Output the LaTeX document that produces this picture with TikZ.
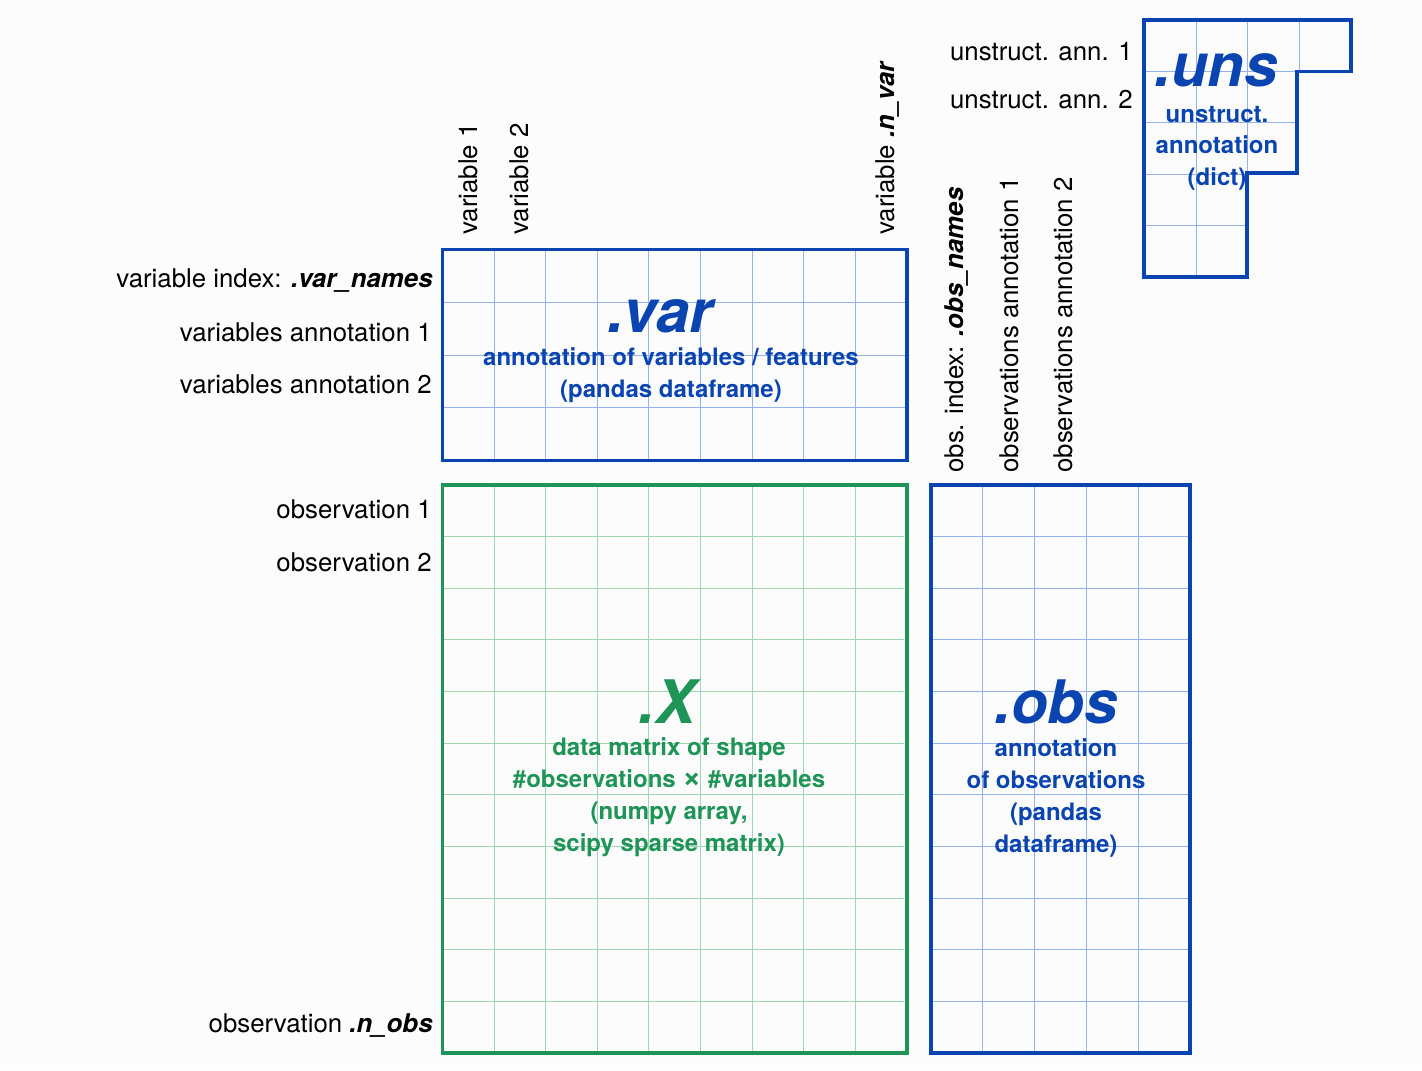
\documentclass[tikz,border=0pt]{standalone}
\usepackage{fontspec}
\setmainfont{TeX Gyre Heros}
\definecolor{adblue}{RGB}{10,68,176}
\definecolor{adbluegrid}{RGB}{150,178,230}
\definecolor{adgreen}{RGB}{30,148,86}
\definecolor{adgreengrid}{RGB}{160,214,180}
\definecolor{bg}{RGB}{252,252,252}
\tikzset{
  lbl/.style={inner sep=0pt, font=\fontsize{12.9}{15}\selectfont, text=black},
  rlbl/.style={lbl, anchor=base east},
  vlbl/.style={lbl, rotate=90, anchor=base west},
  bigttl/.style={inner sep=0pt, anchor=base, font=\fontsize{30}{36}\selectfont\bfseries\itshape},
  sub/.style={inner sep=0pt, anchor=base, font=\fontsize{12}{16}\selectfont\bfseries},
  bluebox/.style={draw=adblue, line width=1.75pt},
  greenbox/.style={draw=adgreen, line width=1.75pt},
  boxnode/.style={rectangle, inner sep=0pt, outer sep=0pt, anchor=north west},
  bluegrid/.style={draw=adbluegrid, line width=0.5pt},
  greengrid/.style={draw=adgreengrid, line width=0.5pt},
}
\begin{document}
\begin{tikzpicture}[x=0.5pt,y=-0.5pt]
\useasboundingbox (0,0) rectangle (1422,1070);
\fill[bg] (0,0) rectangle (1422,1070);

% ---------- .var grid ----------
\foreach \i in {1,...,8} \draw[bluegrid] ({442.5+\i*51.6},249.5) -- ({442.5+\i*51.6},460.5);
\foreach \j in {1,2,3} \draw[bluegrid] (442.5,{249.5+\j*52.75}) -- (907,{249.5+\j*52.75});
\node[bluebox, boxnode, minimum width=232.25pt, minimum height=105.5pt] (var) at (442.5,249.5) {};

% ---------- .X grid ----------
\foreach \i in {1,...,8} \draw[greengrid] ({442.5+\i*51.6},485) -- ({442.5+\i*51.6},1053);
\foreach \j in {1,...,10} \draw[greengrid] (442.5,{485+\j*51.64}) -- (904,{485+\j*51.64});
\node[greenbox, boxnode, minimum width=232.25pt, minimum height=284pt] (X) at (442.5,485) {};

% ---------- .obs grid ----------
\foreach \i in {1,...,4} \draw[bluegrid] ({931+\i*51.8},485) -- ({931+\i*51.8},1053);
\foreach \j in {1,...,10} \draw[bluegrid] (931,{485+\j*51.64}) -- (1190,{485+\j*51.64});
\node[bluebox, boxnode, minimum width=129.5pt, minimum height=284pt] (obs) at (931,485) {};

% ---------- .uns grid ----------
\draw[bluegrid] (1196,20) -- (1196,277);
\draw[bluegrid] (1247.5,20) -- (1247.5,174);
\draw[bluegrid] (1299,20) -- (1299,71.4);
\draw[bluegrid] (1144,71.4) -- (1297,71.4);
\draw[bluegrid] (1144,122.8) -- (1297,122.8);
\draw[bluegrid] (1144,174.2) -- (1247,174.2);
\draw[bluegrid] (1144,225.6) -- (1247,225.6);
\draw[bluebox, line join=miter] (1144,20) -- (1351,20) -- (1351,71.4) -- (1297,71.4)
  -- (1297,173) -- (1247,173) -- (1247,277) -- (1144,277) -- cycle;

% ---------- box texts ----------
\node[bigttl, text=adblue] (varT) at (660,332) {.var};
\node[sub, text=adblue] (varS1) at (671,365) {annotation of variables / features};
\node[sub, text=adblue] (varS2) at (671,397) {(pandas dataframe)};

\node[bigttl, text=adgreen] (XT) at (667,723) {.X};
\node[sub, text=adgreen] (XS1) at (669,755) {data matrix of shape};
\node[sub, text=adgreen] (XS2) at (669,787) {\#observations \scalebox{1.35}{×} \#variables};
\node[sub, text=adgreen] (XS3) at (669,819) {(numpy array,};
\node[sub, text=adgreen] (XS4) at (669,851) {scipy sparse matrix)};

\node[bigttl, text=adblue] (obsT) at (1056,723) {.obs};
\node[sub, text=adblue] (obsS1) at (1056,756) {annotation};
\node[sub, text=adblue] (obsS2) at (1056,788) {of observations};
\node[sub, text=adblue] (obsS3) at (1056,820) {(pandas};
\node[sub, text=adblue] (obsS4) at (1056,852) {dataframe)};

\node[bigttl, text=adblue] (unsT) at (1216,87) {.uns};
\node[sub, text=adblue] (unsS1) at (1217,122) {unstruct.};
\node[sub, text=adblue] (unsS2) at (1217,153.5) {annotation};
\node[sub, text=adblue] (unsS3) at (1217,185) {(dict)};

% ---------- left labels ----------
\node[rlbl] (vidx) at (433,287) {variable index: \textbf{\textit{.var\_names}}};
\node[rlbl] (va1) at (432,341) {variables annotation 1};
\node[rlbl] (va2) at (432,393) {variables annotation 2};
\node[rlbl] (o1) at (432,518) {observation 1};
\node[rlbl] (o2) at (432,571) {observation 2};
\node[rlbl] (on) at (433,1032) {observation \textbf{\textit{.n\_obs}}};
\node[rlbl] (u1) at (1133,61) {unstruct. ann. 1};
\node[rlbl] (u2) at (1133,109) {unstruct. ann. 2};

% ---------- top labels ----------
\node[vlbl] (v1) at (477,235) {variable 1};
\node[vlbl] (v2) at (528,235) {variable 2};
\node[vlbl] (vn) at (894,235) {variable \textbf{\textit{.n\_var}}};
\node[vlbl] (oidx) at (963,473) {obs. index: \textbf{\textit{.obs\_names}}};
\node[vlbl] (oa1) at (1018,473) {observations annotation 1};
\node[vlbl] (oa2) at (1072,473) {observations annotation 2};
\end{tikzpicture}
\end{document}
